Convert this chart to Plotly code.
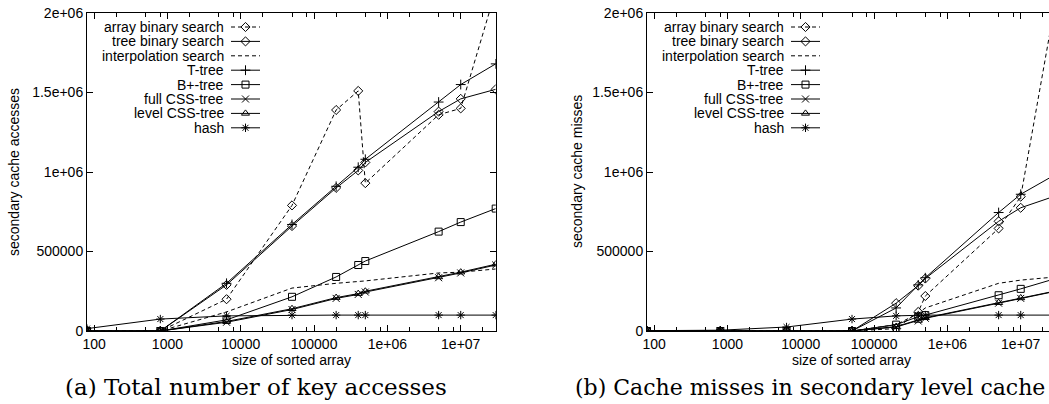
import math
import plotly.graph_objects as go

# array sizes (x) shared by both panels
sizes = [80, 800, 6400, 50000, 200000, 400000, 500000, 5000000, 10000000, 30000000]

series_names = [
    "array binary search",
    "tree binary search",
    "interpolation search",
    "T-tree",
    "B+-tree",
    "full CSS-tree",
    "level CSS-tree",
    "hash",
]

# (a) total number of key accesses
acc_array_bs = [0, 0, 200000, 790000, 1390000, 1510000, 930000, 1360000, 1400000, 2140000]
acc_tree_bs = [0, 0, 290000, 660000, 900000, 1010000, 1060000, 1380000, 1460000, 1520000]
acc_interp = [0, 0, 120000, 270000, 300000, 310000, 315000, 365000, 370000, 390000]
acc_ttree = [0, 0, 300000, 670000, 910000, 1030000, 1080000, 1440000, 1550000, 1680000]
acc_bplus = [0, 0, 70000, 215000, 340000, 415000, 440000, 625000, 685000, 770000]
acc_full_css = [0, 0, 55000, 135000, 205000, 230000, 245000, 335000, 365000, 415000]
acc_level_css = [0, 0, 60000, 140000, 210000, 235000, 250000, 340000, 370000, 420000]
acc_hash = [15000, 75000, 95000, 100000, 100000, 100000, 100000, 100000, 100000, 100000]

# (b) cache misses in secondary level cache
mis_array_bs = [0, 0, 0, 0, 15000, 120000, 220000, 645000, 845000, 2080000]
mis_tree_bs = [0, 0, 0, 0, 175000, 285000, 330000, 690000, 775000, 850000]
mis_interp = [0, 0, 0, 0, 40000, 110000, 145000, 300000, 320000, 340000]
mis_ttree = [0, 0, 0, 0, 145000, 290000, 335000, 745000, 860000, 985000]
mis_bplus = [0, 0, 0, 0, 40000, 90000, 100000, 225000, 265000, 330000]
mis_full_css = [0, 0, 0, 0, 25000, 63000, 80000, 175000, 205000, 250000]
mis_level_css = [0, 0, 0, 0, 28000, 66000, 83000, 178000, 208000, 252000]
mis_hash = [2000, 5000, 25000, 75000, 95000, 100000, 100000, 100000, 100000, 100000]

y_ticks = [0, 500000, 1000000, 1500000, 2000000]
y_tick_text = ["0", "500000", "1e+06", "1.5e+06", "2e+06"]
x_ticks = [100, 1000, 10000, 100000, 1000000, 10000000]
x_tick_text = ["100", "1000", "10000", "100000", "1e+06", "1e+07"]

acc_data = [acc_array_bs, acc_tree_bs, acc_interp, acc_ttree,
            acc_bplus, acc_full_css, acc_level_css, acc_hash]
mis_data = [mis_array_bs, mis_tree_bs, mis_interp, mis_ttree,
            mis_bplus, mis_full_css, mis_level_css, mis_hash]

# gnuplot-like styles: (dash, marker symbol)
styles = [
    ("4px,3px", "diamond-open"),
    ("solid", "diamond-open"),
    ("4px,3px", None),
    ("solid", "cross-thin-open"),
    ("solid", "square-open"),
    ("solid", "x-thin-open"),
    ("solid", "triangle-up-open"),
    ("solid", "asterisk-open"),
]

W, H = 1049, 404
SANS = "Liberation Sans, Arial, sans-serif"
SERIF = "DejaVu Serif, serif"

# pixel geometry of the two panels
top_px, bot_px = 13, 331
left_a, right_a = 87, 495.7
left_b = 647
plot_w = right_a - left_a
dec_px = plot_w / (math.log10(30000000) - math.log10(80))


def px(x):
    return x / W


def py(y):
    return 1 - y / H


x_range_a = [math.log10(80), math.log10(30000000)]
x_range_b = [math.log10(80), math.log10(80) + (W - left_b) / dec_px]

minor_vals = [m * 10 ** e for e in range(1, 8) for m in (2, 5, 8)]

fig = go.Figure()


def add_panel(data, xa, ya):
    for name, vals, (dash, sym) in zip(series_names, data, styles):
        fig.add_trace(go.Scatter(
            x=sizes, y=vals, name=name, xaxis=xa, yaxis=ya,
            mode="lines+markers" if sym else "lines",
            line=dict(color="black", width=1, dash=dash),
            marker=dict(symbol=sym or "circle", size=7, color="black",
                        line=dict(color="black", width=1)),
            showlegend=False, hoverinfo="skip",
        ))


add_panel(acc_data, "x", "y")
add_panel(mis_data, "x2", "y2")

# legend keys drawn gnuplot style (text right-aligned, sample on the right)
entry_y = [27 + i * 14.4 for i in range(len(series_names))]


def add_key(xa, ya, axis_left):
    for i, (name, (dash, sym)) in enumerate(zip(series_names, styles)):
        yy = 1 - (entry_y[i] - top_px) / (bot_px - top_px)
        x0, x1 = 144 / plot_w, 173 / plot_w
        fig.add_trace(go.Scatter(
            x=[x0, x1], y=[yy, yy], xaxis=xa, yaxis=ya, mode="lines",
            line=dict(color="black", width=1, dash=dash),
            showlegend=False, hoverinfo="skip",
        ))
        if sym:
            fig.add_trace(go.Scatter(
                x=[(x0 + x1) / 2], y=[yy], xaxis=xa, yaxis=ya, mode="markers",
                marker=dict(symbol=sym, size=7, color="black",
                            line=dict(color="black", width=1)),
                showlegend=False, hoverinfo="skip",
            ))
        fig.add_annotation(
            x=px(axis_left + 139), y=py(entry_y[i]), xref="paper", yref="paper",
            text=name, showarrow=False, xanchor="right", yanchor="middle",
            font=dict(family=SANS, size=14, color="black"),
        )


add_key("x3", "y3", left_a)
add_key("x4", "y4", left_b)

y_dom = [py(bot_px), py(top_px)]
dom_a = [px(left_a), px(right_a)]
dom_b = [px(left_b), 1.0]

common_x = dict(
    type="log", tickmode="array", tickvals=x_ticks, ticktext=x_tick_text,
    ticks="inside", ticklen=6, tickcolor="black", showgrid=False, zeroline=False,
    showline=True, linecolor="black", linewidth=1, mirror="ticks",
    automargin=False,
    tickfont=dict(family=SANS, size=14, color="black"),
    minor=dict(tickmode="array", tickvals=minor_vals, ticks="inside",
               ticklen=4, tickcolor="black"),
)
common_y = dict(
    range=[0, 2000000], tickmode="array", tickvals=y_ticks, ticktext=y_tick_text,
    ticks="inside", ticklen=6, tickcolor="black", showgrid=False, zeroline=False,
    showline=True, linecolor="black", linewidth=1, automargin=False,
    tickfont=dict(family=SANS, size=14, color="black"),
)

fig.update_layout(
    width=W, height=H, margin=dict(l=0, r=0, t=0, b=0, autoexpand=False),
    paper_bgcolor="white", plot_bgcolor="rgba(0,0,0,0)",
    xaxis=dict(common_x, domain=dom_a, range=x_range_a, anchor="y"),
    yaxis=dict(common_y, domain=y_dom, anchor="x", mirror="ticks"),
    xaxis2=dict(common_x, domain=dom_b, range=x_range_b, anchor="y2"),
    yaxis2=dict(common_y, domain=y_dom, anchor="x2", mirror=False),
    xaxis3=dict(overlaying="x", range=[0, 1], anchor="y3", visible=False),
    yaxis3=dict(overlaying="y", range=[0, 1], anchor="x3", visible=False),
    xaxis4=dict(overlaying="x2", range=[0, (W - left_b) / plot_w],
                anchor="y4", visible=False),
    yaxis4=dict(overlaying="y2", range=[0, 1], anchor="x4", visible=False),
    showlegend=False,
)

# axis titles and captions
texts = [
    ("secondary cache accesses", 14, 172, -90, "center", SANS, 14),
    ("size of sorted array", left_a + plot_w / 2, 360, 0, "center", SANS, 14),
    ("secondary cache misses", 577, 172, -90, "center", SANS, 14),
    ("size of sorted array", left_b + plot_w / 2, 360, 0, "center", SANS, 14),
    ("(a) Total number of key accesses", 256, 387, 0, "center", SERIF, 23),
    ("(b) Cache misses in secondary level cache", 573, 387, 0, "left", SERIF, 22),
]
for t, x, y, ang, xa, fam, sz in texts:
    fig.add_annotation(
        x=px(x), y=py(y), xref="paper", yref="paper", text=t, showarrow=False,
        textangle=ang, xanchor=xa, yanchor="middle",
        font=dict(family=fam, size=sz, color="black"),
    )

# the page body has a default 8px margin; drop it so the figure sits at 0,0
fig.write_html("out.html", config={"displayModeBar": False},
               post_script="document.body.style.margin = '0';")
